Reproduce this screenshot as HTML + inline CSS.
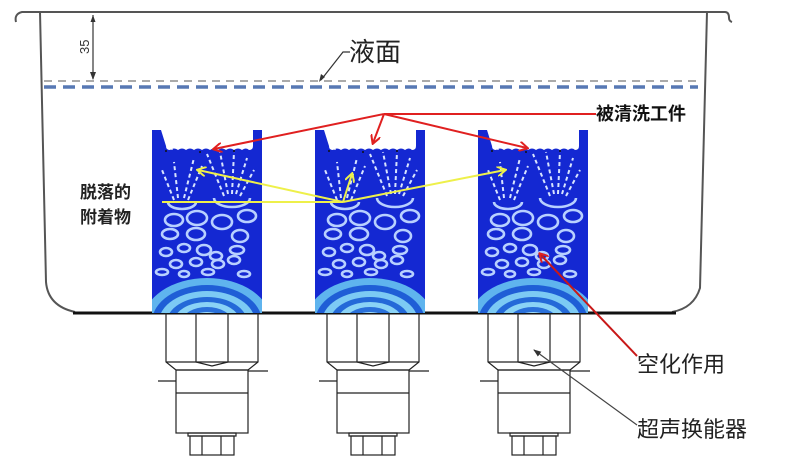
<!DOCTYPE html>
<html><head><meta charset="utf-8"><style>
html,body{margin:0;padding:0;background:#fff;}
svg{display:block;}
text{font-family:"Liberation Sans","Noto Sans CJK SC",sans-serif;}
</style></head><body>
<svg width="800" height="463" viewBox="0 0 800 463" xmlns="http://www.w3.org/2000/svg">
<defs>
<clipPath id="pc"><rect x="0" y="0" width="110" height="183"/></clipPath>
<g id="panel">
 <g clip-path="url(#pc)">
 <rect x="0" y="0" width="110" height="183" fill="#1428d2"/>
 <path d="M9 0 H101 V16 q0 4 -4 4 q-3 -3 -7 0 q-4 -3 -8 0 q-4 -3 -8 0 q-4 -3 -8 0 q-4 -3 -8 0 q-4 -3 -8 0 q-4 -3 -8 0 q-4 -3 -8 0 q-4 -3 -8 0 q-4 -3 -8 0 q-4 0 -4 -4 Z" fill="#fff"/>
 <g fill="#111"><circle cx="14" cy="21" r="1"/><circle cx="48" cy="22" r="1"/><circle cx="82" cy="21" r="1"/></g>
 <g stroke="#fff" stroke-width="1.2" fill="none"><path d="M20 12 v8"/><path d="M74 10 v8"/></g>
 <g stroke="#d8e4ff" stroke-width="2" stroke-dasharray="4 3" fill="none">
  <path d="M22 70 L10 40"/><path d="M26 68 L22 32"/><path d="M32 68 L42 28"/><path d="M36 70 L50 36"/>
  <path d="M72 66 L55 24"/><path d="M76 64 L68 22"/><path d="M80 64 L82 22"/><path d="M84 64 L95 28"/><path d="M88 66 L102 40"/>
 </g>
 <g stroke="#b8d0ff" stroke-width="2.6" fill="none">
  <path d="M16 72 a14 7 0 0 0 28 0"/><path d="M62 68 a18 9 0 0 0 36 0"/>
  <ellipse cx="22" cy="90" rx="9" ry="6"/><ellipse cx="45" cy="88" rx="10" ry="7"/><ellipse cx="70" cy="92" rx="10" ry="7"/><ellipse cx="95" cy="86" rx="9" ry="6"/>
  <ellipse cx="18" cy="104" rx="8" ry="5"/><ellipse cx="44" cy="104" rx="9" ry="6"/><ellipse cx="88" cy="106" rx="8" ry="6"/>
  <ellipse cx="14" cy="122" rx="6" ry="4"/><ellipse cx="32" cy="118" rx="6" ry="4"/><ellipse cx="52" cy="120" rx="7" ry="5"/><ellipse cx="64" cy="126" rx="6" ry="4"/><ellipse cx="85" cy="120" rx="7" ry="4"/>
  <ellipse cx="24" cy="134" rx="6" ry="4"/><ellipse cx="44" cy="132" rx="6" ry="4"/><ellipse cx="66" cy="134" rx="6" ry="4"/><ellipse cx="82" cy="130" rx="6" ry="4"/>
  <ellipse cx="10" cy="142" rx="6" ry="3"/><ellipse cx="32" cy="144" rx="5" ry="3"/><ellipse cx="56" cy="142" rx="6" ry="3"/><ellipse cx="92" cy="144" rx="6" ry="3"/>
 </g>
 <ellipse cx="55" cy="192" rx="64" ry="44" fill="#5fb4ee"/>
 <ellipse cx="55" cy="192" rx="55" ry="37" fill="#1f5ed6"/>
 <ellipse cx="55" cy="192" rx="48" ry="31" fill="#7ccaf4"/>
 <ellipse cx="55" cy="192" rx="40" ry="25" fill="#2469d8"/>
 <ellipse cx="55" cy="192" rx="33" ry="20" fill="#8ad3f6"/>
 <ellipse cx="55" cy="192" rx="25" ry="15" fill="#2a70da"/>
 <ellipse cx="55" cy="192" rx="18" ry="10" fill="#a0ddf8"/>
 <ellipse cx="55" cy="192" rx="10" ry="6" fill="#1f5ed6"/>
 </g>
</g>
<g id="td" fill="none" stroke="#222" stroke-width="1.2">
 <path d="M0 0 V49 L10 57 H82 L92 49 V0"/>
 <path d="M30 0 V49 L46 53 L62 49 V0"/>
 <path d="M0 49 H92"/>
 <rect x="10" y="57" width="72" height="63"/>
 <path d="M10 80 H82"/>
 <path d="M82 58 H102"/><path d="M-8 68 H10"/>
 <path d="M22 120 H70 V123 H22 Z"/>
 <rect x="24" y="123" width="44" height="19"/>
 <path d="M36 123 V142 M55 123 V142"/>
</g>
<marker id="ar" markerWidth="10" markerHeight="10" refX="8" refY="5" orient="auto" markerUnits="userSpaceOnUse"><path d="M0 0 L9 5 L0 10" fill="none" stroke="#e02020" stroke-width="2"/></marker>
<marker id="ay" markerWidth="10" markerHeight="10" refX="8" refY="5" orient="auto" markerUnits="userSpaceOnUse"><path d="M0 0 L9 5 L0 10" fill="none" stroke="#eef04a" stroke-width="2"/></marker>
<marker id="ak" markerWidth="8" markerHeight="6" refX="7" refY="3" orient="auto" markerUnits="userSpaceOnUse"><path d="M0 0 L8 3 L0 6 Z" fill="#333"/></marker>
</defs>

<g fill="none" stroke="#555" stroke-width="2">
 <path d="M16 22 q-2 -8 6 -10 H708 H725 q4 0 4 6 q0 3 3 4"/>
 <path d="M40 12 L46 282 Q48 306 75 312"/>
 <path d="M707 12 L700 288 Q694 308 672 312"/>
</g>
<line x1="73" y1="313" x2="676" y2="313" stroke="#111" stroke-width="3"/>

<line x1="44" y1="81" x2="698" y2="81" stroke="#777" stroke-width="1.3" stroke-dasharray="8 6"/>
<line x1="44" y1="87" x2="698" y2="87" stroke="#5778b4" stroke-width="3.5" stroke-dasharray="12 7"/>
<line x1="93" y1="15" x2="93" y2="79" stroke="#333" stroke-width="1.2" marker-end="url(#ak)"/>
<path d="M93 15 l-2.5 7 h5 z" fill="#333"/>
<text x="0" y="0" font-size="13" fill="#333" transform="translate(89,54) rotate(-90)">35</text>
<path d="M350 52 H343 L321 80" fill="none" stroke="#333" stroke-width="1.2"/>
<path d="M319 82 l2 -8 l4 3 z" fill="#333"/>
<text x="349" y="61" font-size="26" fill="#222">液面</text>

<use href="#panel" x="152" y="130"/>
<use href="#panel" x="315" y="130"/>
<use href="#panel" x="478" y="130"/>

<use href="#td" x="166" y="313"/>
<use href="#td" x="327" y="313"/>
<use href="#td" x="488" y="313"/>

<g stroke="#e02020" stroke-width="2" fill="none">
 <path d="M596 114 H384"/>
 <path d="M384 114 L214 149" marker-end="url(#ar)"/>
 <path d="M384 114 L373 143" marker-end="url(#ar)"/>
 <path d="M384 114 L527 148" marker-end="url(#ar)"/>
 <path d="M637 356 L540 254" stroke="#c81818" marker-end="url(#ar)"/>
</g>
<g stroke="#eef04a" stroke-width="2" fill="none">
 <path d="M162 202 H343"/>
 <path d="M343 202 L198 170" marker-end="url(#ay)"/>
 <path d="M343 202 L352 174" marker-end="url(#ay)"/>
 <path d="M343 202 L505 170" marker-end="url(#ay)"/>
</g>
<line x1="637" y1="425" x2="534" y2="350" stroke="#444" stroke-width="1.2" marker-end="url(#ak)"/>

<text x="596" y="120" font-size="18" font-weight="bold" fill="#111">被清洗工件</text>
<text x="80" y="198" font-size="17" font-weight="bold" fill="#222">脱落的</text>
<text x="80" y="223" font-size="17" font-weight="bold" fill="#222">附着物</text>
<text x="637" y="372" font-size="22" fill="#222">空化作用</text>
<text x="637" y="437" font-size="22" fill="#222">超声换能器</text>
</svg>
</body></html>
